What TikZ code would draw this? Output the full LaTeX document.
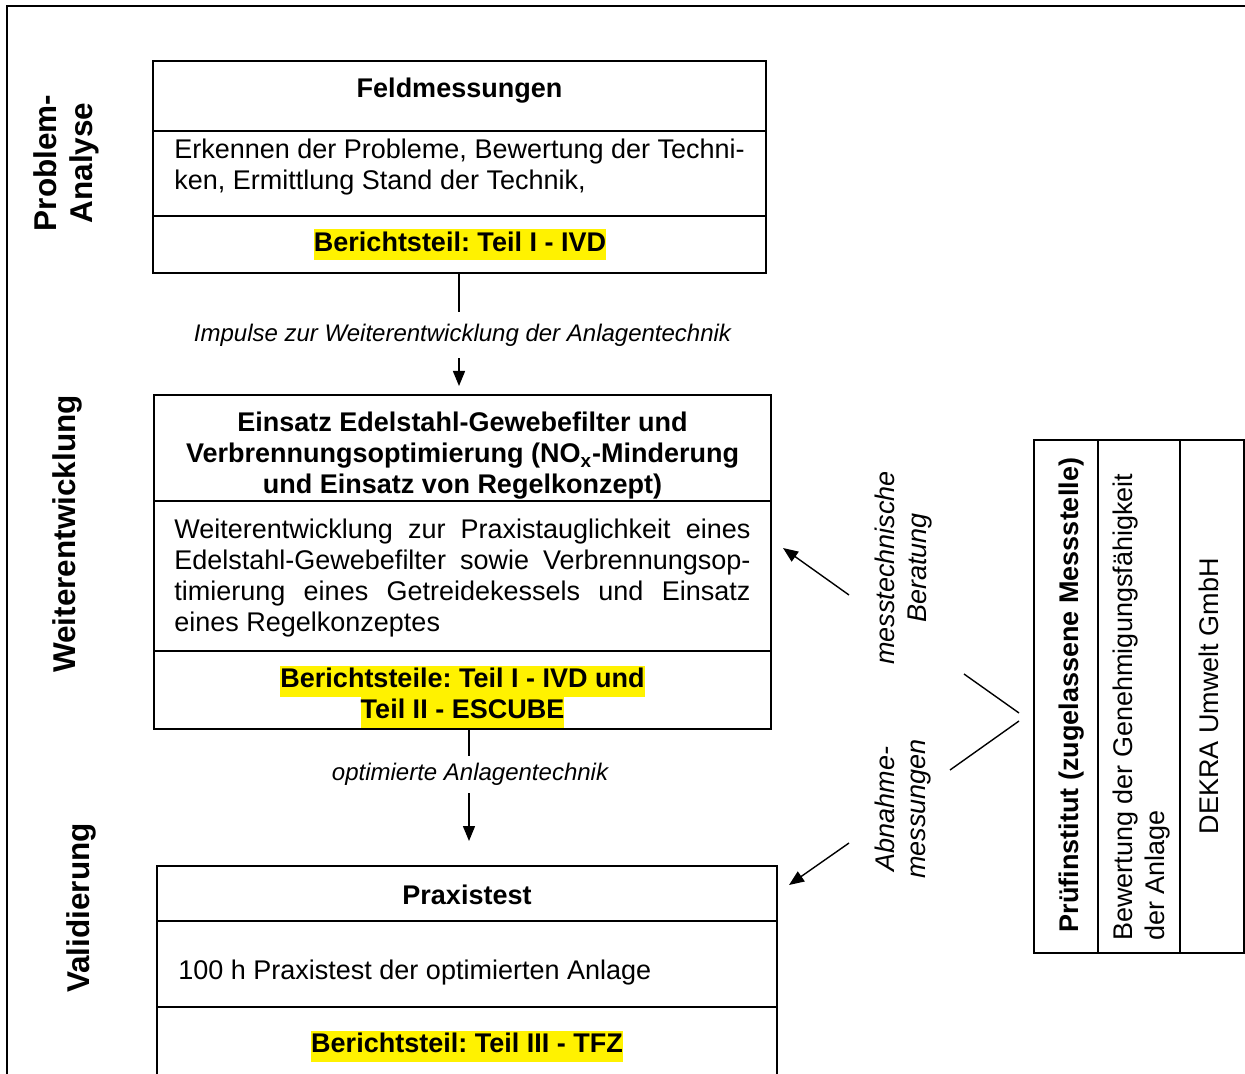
\documentclass[tikz,border=0pt]{standalone}
\usepackage{fontspec}
\setmainfont{Liberation Sans}
\usetikzlibrary{arrows.meta}
\frenchspacing
\newcommand\bodyfs{\fontsize{13.5pt}{15.5pt}\selectfont}
\newcommand\sidefs{\fontsize{15.75pt}{18pt}\selectfont}
\newcommand\lblfs{\fontsize{12pt}{14pt}\selectfont}
\newcommand\rotfs{\fontsize{13.5pt}{16pt}\selectfont}
\newcommand\hlbox[1]{{\setlength{\fboxsep}{0pt}\colorbox{yellow}{\strut #1}}}
\begin{document}
\begin{tikzpicture}[x=0.5pt,y=-0.5pt,
  part/.style={draw, line width=0.9pt, inner sep=0pt, outer sep=0pt},
  txt/.style={inner sep=0pt, font=\bodyfs},
  btxt/.style={inner sep=0pt, font=\bodyfs\bfseries, align=center},
  side/.style={inner sep=0pt, rotate=90, font=\sidefs\bfseries, align=center},
  rot/.style={inner sep=0pt, rotate=90, font=\rotfs},
  lbl/.style={inner sep=0pt, inner xsep=2pt, fill=white, font=\lblfs\itshape},
  arr/.style={line width=0.7pt, -{Triangle[length=7.5pt,width=6pt]}},
  conn/.style={line width=0.7pt}]
\clip (0,0) rectangle (1245,1074);
\fill[white] (0,0) rectangle (1245,1074);
% frame
\draw[line width=1.3pt] (7,1100) -- (7,6) -- (1260,6);

% box 1
\node[part, minimum width=306.5pt, minimum height=35pt] (f1) at (459.5,96) {};
\node[part, minimum width=306.5pt, minimum height=42.5pt] (f2) at (459.5,173.5) {};
\node[part, minimum width=306.5pt, minimum height=28.5pt] (f3) at (459.5,244.5) {};
\node[btxt] (f1t) at (459.5,91) {Feldmessungen};
\node[txt, anchor=west, align=left] (f2t) at (174,167.5) {Erkennen der Probleme, Bewertung der Techni-\\ken, Ermittlung Stand der Technik,};
\node[btxt] (f3t) at (460,245) {\hlbox{Berichtsteil: Teil I - IVD}};

% box 2
\node[part, minimum width=308.5pt, minimum height=53pt] (w1) at (462.5,448) {};
\node[part, minimum width=308.5pt, minimum height=75pt] (w2) at (462.5,576) {};
\node[part, minimum width=308.5pt, minimum height=39pt] (w3) at (462.5,690) {};
\node[btxt] (w1t) at (462.5,456) {Einsatz Edelstahl-Gewebefilter und\\Verbrennungsoptimierung (NO\textsubscript{x}-Minderung\\und Einsatz von Regelkonzept)};
\node[txt, anchor=west, align=left] (w2t) at (174,578) {\makebox[288pt][s]{Weiterentwicklung zur Praxistauglichkeit eines}\\\makebox[288pt][s]{Edelstahl-Gewebefilter sowie Verbrennungsop-}\\\makebox[288pt][s]{timierung eines Getreidekessels und Einsatz}\\eines Regelkonzeptes};
\node[btxt] (w3t) at (462.5,696.5) {\hlbox{Berichtsteile: Teil I - IVD und}\\\hlbox{Teil II - ESCUBE}};

% box 3
\node[part, minimum width=310pt, minimum height=27.5pt] (p1) at (467,893.5) {};
\node[part, minimum width=310pt, minimum height=43pt] (p2) at (467,964) {};
\node[part, minimum width=310pt, minimum height=39pt] (p3) at (467,1046) {};
\node[btxt] (p1t) at (467,894.5) {Praxistest};
\node[txt, anchor=west] (p2t) at (178,973) {100 h Praxistest der optimierten Anlage};
\node[btxt] (p3t) at (467,1046) {\hlbox{Berichtsteil: Teil III - TFZ}};

% side labels
\node[side] (sa) at (66,163) {Problem-\\Analyse};
\node[side] (sw) at (67,534) {Weiterentwicklung};
\node[side] (sv) at (81,908) {Validierung};

% arrows between boxes
\coordinate (a1s) at (459,273);
\coordinate (a1e) at (459,386);
\draw[arr] (a1s) -- (a1e);
\node[lbl, minimum height=23pt] (l1) at (462.5,335) {Impulse zur Weiterentwicklung der Anlagentechnik};
\coordinate (a2s) at (469,729);
\coordinate (a2e) at (469,841);
\draw[arr] (a2s) -- (a2e);
\node[lbl, minimum height=18.5pt] (l2) at (470,774) {optimierte Anlagentechnik};

% right box
\node[part, minimum width=32pt, minimum height=256.5pt] (r1) at (1066,696.5) {};
\node[part, minimum width=41pt, minimum height=256.5pt] (r2) at (1139,696.5) {};
\node[part, minimum width=32pt, minimum height=256.5pt] (r3) at (1212,696.5) {};
\node[rot, font=\rotfs\bfseries] (r1t) at (1072,695) {Prüfinstitut (zugelassene Messstelle)};
\node[rot, anchor=west, align=left] (r2t) at (1141,941) {Bewertung der Genehmigungsfähigkeit\\der Anlage};
\node[rot] (r3t) at (1209,696) {DEKRA Umwelt GmbH};

% labels near right
\node[rot, font=\rotfs\itshape, align=center] (mb) at (904,568) {messtechnische\\Beratung};
\node[rot, font=\rotfs\itshape, align=center] (ab) at (903,809) {Abnahme-\\messungen};

% V connectors and arrows
\coordinate (apx1) at (1019,713);
\coordinate (apx2) at (1019,721);
\coordinate (v1) at (964,674);
\coordinate (v2) at (950,770);
\draw[conn] (v1) -- (apx1);
\draw[conn] (v2) -- (apx2);
\coordinate (m1s) at (849,595);
\coordinate (m1e) at (783,548);
\coordinate (m2s) at (849,843);
\coordinate (m2e) at (789,885);
\draw[arr] (m1s) -- (m1e);
\draw[arr] (m2s) -- (m2e);
\end{tikzpicture}
\end{document}
